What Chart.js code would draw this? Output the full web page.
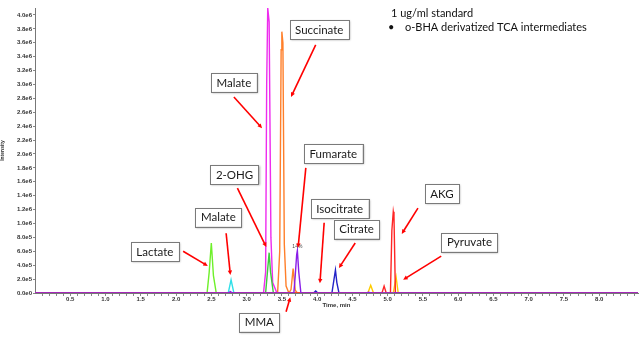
<!DOCTYPE html>
<html>
<head>
<meta charset="utf-8">
<script src="https://cdn.jsdelivr.net/npm/chart.js@4.4.1/dist/chart.umd.min.js"></script>
<style>
  body { margin: 0; background: #fff; }
  canvas { display: block; }
</style>
</head>
<body>
<canvas id="myChart" width="640" height="337"></canvas>
<script>
// time axis range (min)
const timeMin = 0;
const timeMax = 8.55;
const intensityMax = 4.1e6;

// tick labels
const timeLabels = [0.5, 1.0, 1.5, 2.0, 2.5, 3.0, 3.5, 4.0, 4.5, 5.0, 5.5, 6.0, 6.5, 7.0, 7.5, 8.0];
const intensityTicks = [0, 2e5, 4e5, 6e5, 8e5, 1.0e6, 1.2e6, 1.4e6, 1.6e6, 1.8e6, 2.0e6,
    2.2e6, 2.4e6, 2.6e6, 2.8e6, 3.0e6, 3.2e6, 3.4e6, 3.6e6, 3.8e6, 4.0e6];

// traces: time points (min) and intensities
const purpleTimes = [0, 2.74, 2.77, 2.80, 3.67, 3.69, 3.71, 3.72, 3.74, 3.77, 4.70, 4.73, 4.76, 8.55];
const purpleValues = [0, 0, 0.02e6, 0, 0, 0.25e6, 0.55e6, 0.61e6, 0.3e6, 0, 0, 0.01e6, 0, 0];

const magentaTimes = [0, 3.24, 3.27, 3.285, 3.30, 3.32, 3.345, 3.37, 3.43, 8.55];
const magentaValues = [0, 0, 0.3e6, 3.0e6, 4.1e6, 3.9e6, 0.8e6, 0.15e6, 0, 0];

const orangeTimes = [0, 3.44, 3.47, 3.49, 3.50, 3.515, 3.535, 3.56, 3.60, 3.63, 3.66, 3.69, 3.72, 8.55];
const orangeValues = [0, 0, 0.6e6, 3.5e6, 3.76e6, 3.6e6, 0.7e6, 0.1e6, 0, 0.05e6, 0.35e6, 0.04e6, 0, 0];

const limeTimes = [0, 2.44, 2.47, 2.50, 2.53, 2.57, 8.55];
const limeValues = [0, 0, 0.3e6, 0.72e6, 0.25e6, 0, 0];

const greenTimes = [0, 3.27, 3.30, 3.32, 3.34, 3.38, 8.55];
const greenValues = [0, 0, 0.35e6, 0.58e6, 0.3e6, 0, 0];

const cyanTimes = [0, 2.74, 2.78, 2.82, 8.55];
const cyanValues = [0, 0, 0.19e6, 0, 0];

const blueTimes = [0, 3.95, 3.98, 4.01, 4.21, 4.24, 4.26, 4.28, 4.31, 8.55];
const blueValues = [0, 0, 0.03e6, 0, 0, 0.2e6, 0.33e6, 0.15e6, 0, 0];

const yellowTimes = [0, 4.72, 4.76, 4.80, 5.08, 5.12, 5.15, 8.55];
const yellowValues = [0, 0, 0.11e6, 0, 0, 0.23e6, 0, 0];

const redTimes = [0, 4.92, 4.95, 4.98, 5.04, 5.06, 5.08, 5.09, 5.11, 8.55];
const redValues = [0, 0, 0.1e6, 0, 0, 0.9e6, 1.17e6, 1.1e6, 0, 0];

// callouts: label, box centre (time, intensity), arrow start, arrow tip
const calloutLabels = ['Lactate', 'Malate', '2-OHG', 'Malate', 'Succinate', 'Fumarate', 'Isocitrate', 'Citrate', 'MMA', 'AKG', 'Pyruvate'];
const calloutBoxes = [[1.70, 0.59e6], [2.60, 1.09e6], [2.83, 1.70e6], [2.82, 3.03e6], [4.03, 3.79e6], [4.23, 2.0e6], [4.32, 1.21e6], [4.56, 0.92e6], [3.18, -0.42e6], [5.77, 1.43e6], [6.16, 0.73e6]];
const arrowFrom = [[2.10, 0.60e6], [2.71, 0.86e6], [2.87, 1.51e6], [2.82, 2.82e6], [3.98, 3.57e6], [3.84, 1.80e6], [4.10, 1.01e6], [4.54, 0.72e6], [3.56, -0.27e6], [5.43, 1.22e6], [5.76, 0.53e6]];
const arrowTo = [[2.45, 0.39e6], [2.77, 0.26e6], [3.28, 0.66e6], [3.22, 2.37e6], [3.63, 2.82e6], [3.73, 0.65e6], [4.04, 0.14e6], [4.31, 0.36e6], [3.62, -0.06e6], [5.20, 0.85e6], [5.22, 0.19e6]];

function toPoints(times, values) {
    return times.map((t, i) => ({ x: t, y: values[i] }));
}

function trace(times, values, color) {
    return {
        data: toPoints(times, values),
        borderColor: color,
        borderWidth: 1.4,
        pointRadius: 0,
        tension: 0,
        fill: false
    };
}

const data = {
    datasets: [
        trace(purpleTimes, purpleValues, '#8a1ee8'),
        trace(redTimes, redValues, '#ff2626'),
        trace(yellowTimes, yellowValues, '#ffcc00'),
        trace(blueTimes, blueValues, '#2323c8'),
        trace(cyanTimes, cyanValues, '#30e0e8'),
        trace(greenTimes, greenValues, '#3ccc3c'),
        trace(limeTimes, limeValues, '#6ef02a'),
        trace(orangeTimes, orangeValues, '#ff7f2a'),
        trace(magentaTimes, magentaValues, '#ee2cee')
    ]
};

function drawArrow(ctx, x1, y1, x2, y2) {
    const ang = Math.atan2(y2 - y1, x2 - x1);
    const head = 5;
    ctx.strokeStyle = '#ff0000';
    ctx.fillStyle = '#ff0000';
    ctx.lineWidth = 1.6;
    ctx.beginPath();
    ctx.moveTo(x1, y1);
    ctx.lineTo(x2 - Math.cos(ang) * head * 0.8, y2 - Math.sin(ang) * head * 0.8);
    ctx.stroke();
    ctx.beginPath();
    ctx.moveTo(x2, y2);
    ctx.lineTo(x2 - head * Math.cos(ang - 0.45), y2 - head * Math.sin(ang - 0.45));
    ctx.lineTo(x2 - head * Math.cos(ang + 0.45), y2 - head * Math.sin(ang + 0.45));
    ctx.closePath();
    ctx.fill();
}

const calloutPlugin = {
    id: 'callouts',
    afterDraw(chart) {
        const ctx = chart.ctx;
        const xs = chart.scales.x;
        const ys = chart.scales.y;
        ctx.save();

        // small integration label on the fumarate peak
        ctx.font = '5px "Liberation Sans"';
        ctx.fillStyle = '#444';
        ctx.textAlign = 'center';
        ctx.textBaseline = 'bottom';
        ctx.fillText('14%', xs.getPixelForValue(3.72), ys.getPixelForValue(0.63e6));

        ctx.font = '11.5px Lato';
        calloutLabels.forEach((label, i) => {
            drawArrow(ctx,
                xs.getPixelForValue(arrowFrom[i][0]), ys.getPixelForValue(arrowFrom[i][1]),
                xs.getPixelForValue(arrowTo[i][0]), ys.getPixelForValue(arrowTo[i][1]));

            const cx = xs.getPixelForValue(calloutBoxes[i][0]);
            const cy = ys.getPixelForValue(calloutBoxes[i][1]);
            const w = ctx.measureText(label).width + 11;
            const h = 19;
            ctx.save();
            ctx.shadowColor = 'rgba(0,0,0,0.35)';
            ctx.shadowBlur = 2;
            ctx.shadowOffsetX = 1;
            ctx.shadowOffsetY = 1;
            ctx.fillStyle = '#fff';
            ctx.fillRect(cx - w / 2, cy - h / 2, w, h);
            ctx.restore();
            ctx.strokeStyle = '#7a7a7a';
            ctx.lineWidth = 1;
            ctx.strokeRect(Math.round(cx - w / 2) + 0.5, Math.round(cy - h / 2) + 0.5, Math.round(w), h);
            ctx.fillStyle = '#1a1a1a';
            ctx.textAlign = 'center';
            ctx.textBaseline = 'middle';
            ctx.fillText(label, cx, cy + 0.5);
        });

        // header text
        ctx.fillStyle = '#111';
        ctx.textAlign = 'left';
        ctx.textBaseline = 'middle';
        ctx.font = '11px Lato';
        ctx.fillText('1 ug/ml standard', 391, 13);
        ctx.fillText('•', 388, 27);
        ctx.fillText('o-BHA derivatized TCA intermediates', 405, 27);
        ctx.restore();
    }
};

const tickFont = { family: 'Liberation Sans', size: 6, weight: 'bold' };

const config = {
    type: 'line',
    data: data,
    options: {
        responsive: false,
        animation: false,
        layout: { padding: { top: 8, right: 2, left: 0, bottom: 28 } },
        plugins: { legend: { display: false }, tooltip: { enabled: false } },
        scales: {
            x: {
                type: 'linear',
                min: timeMin,
                max: timeMax,
                afterBuildTicks: (scale) => {
                    // minor ticks every 0.1 min
                    const ticks = [];
                    for (let i = 1; i <= 85; i++) ticks.push({ value: i / 10 });
                    scale.ticks = ticks;
                },
                afterFit: (scale) => { scale.height = 16; },
                border: { color: '#777', width: 1 },
                grid: { drawOnChartArea: false, tickLength: 3, color: '#888' },
                ticks: {
                    autoSkip: false,
                    maxRotation: 0,
                    padding: 0,
                    color: '#333',
                    font: tickFont,
                    callback: (v) => {
                        const label = timeLabels.find((t) => Math.abs(t - v) < 1e-6);
                        return label === undefined ? '' : label.toFixed(1);
                    }
                },
                title: { display: true, text: 'Time, min', color: '#333', font: tickFont, padding: { top: 0, bottom: 0 } }
            },
            y: {
                min: 0,
                max: intensityMax,
                afterBuildTicks: (scale) => {
                    scale.ticks = intensityTicks.map((v) => ({ value: v }));
                },
                afterFit: (scale) => { scale.width = 35; },
                border: { color: '#777', width: 1 },
                grid: { drawOnChartArea: false, tickLength: 2, color: '#888' },
                ticks: {
                    autoSkip: false,
                    padding: 1,
                    color: '#333',
                    font: tickFont,
                    callback: (v) => Number(v).toExponential(1).replace('+', '')
                },
                title: { display: true, text: 'Intensity', color: '#333', font: { family: 'Liberation Sans', size: 5, weight: 'bold' }, padding: 0 }
            }
        }
    },
    plugins: [calloutPlugin]
};

const myChart = new Chart(document.getElementById('myChart'), config);
</script>
</body>
</html>
